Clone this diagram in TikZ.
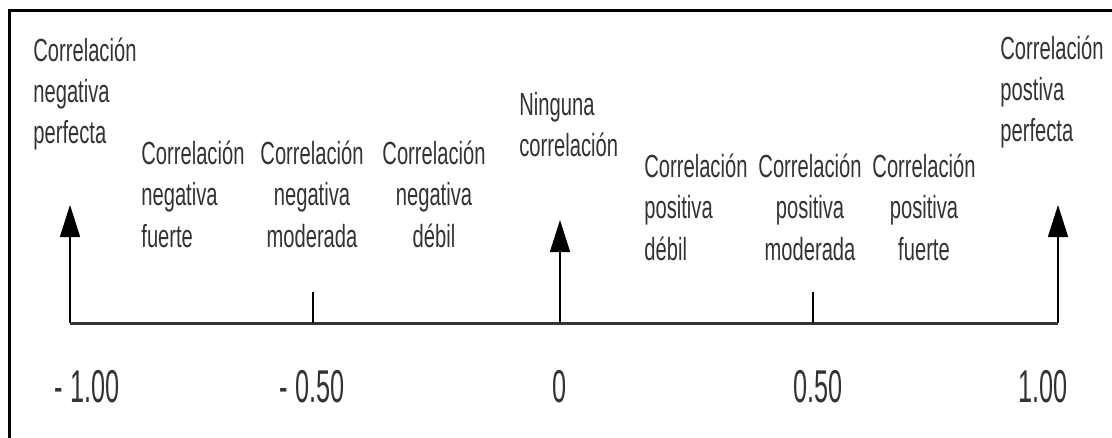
\documentclass[tikz,border=0pt]{standalone}
\usepackage{fontspec}
\setmainfont[FakeStretch=0.63]{Liberation Sans}
\newfontfamily\numfont[FakeStretch=0.55]{Liberation Sans}
\usetikzlibrary{arrows.meta}
\tikzset{>={Triangle[length=16pt, width=10pt]}}
\tikzset{
	lbl/.style={inner sep=0pt, anchor=base west, align=left, text=black!80, font=\fontsize{16}{20.5}\selectfont},
	clbl/.style={lbl, anchor=base, align=center},
	num/.style={inner sep=0pt, anchor=base, text=black!80, font=\numfont\fontsize{23}{23}\selectfont}
}

\begin{document}
\begin{tikzpicture}[x=0.5pt, y=-0.5pt]
    \useasboundingbox (0, 0) rectangle (1112, 438);
    \draw[line width=1.5pt](9, 438)--(9, 11)--(1112, 11);
    % eje
    \coordinate (a1) at (70, 323);
    \coordinate (a2) at (313, 323);
    \coordinate (a3) at (560, 323);
    \coordinate (a4) at (813, 323);
    \coordinate (a5) at (1058, 323);
    \coordinate (t1) at (70, 205);
    \coordinate (t2) at (313, 292);
    \coordinate (t3) at (560, 220);
    \coordinate (t4) at (813, 292);
    \coordinate (t5) at (1058, 205);
    \draw[line width=1.5pt, black!80](a1)--(a5);
    \draw[thick, ->](a1)--(t1);
    \draw[thick, ->](a3)--(t3);
    \draw[thick, ->](a5)--(t5);
    \draw[semithick](a2)--(t2);
    \draw[semithick](a4)--(t4);
    % valores
    \node[num] (n1) at (87, 402) {- 1.00};
    \node[num] (n2) at (312, 402) {- 0.50};
    \node[num] (n3) at (560, 402) {0};
    \node[num] (n4) at (818, 402) {0.50};
    \node[num] (n5) at (1043, 402) {1.00};
    % textos (base = ultima linea)
    \node[lbl] (negperf) at (33, 144) {Correlación\\negativa\\perfecta};
    \node[lbl] (negfuerte) at (141, 247) {Correlación\\negativa\\fuerte};
    \node[clbl] (negmod) at (312, 247) {Correlación\\negativa\\moderada};
    \node[clbl] (negdeb) at (434, 247) {Correlación\\negativa\\débil};
    \node[lbl] (ninguna) at (519, 157) {Ninguna\\correlación};
    \node[lbl] (posdeb) at (644, 260) {Correlación\\positiva\\débil};
    \node[clbl] (posmod) at (810, 260) {Correlación\\positiva\\moderada};
    \node[clbl] (posfuerte) at (924, 260) {Correlación\\positiva\\fuerte};
    \node[lbl] (posperf) at (1000, 142) {Correlación\\postiva\\perfecta};
\end{tikzpicture}
\end{document}
